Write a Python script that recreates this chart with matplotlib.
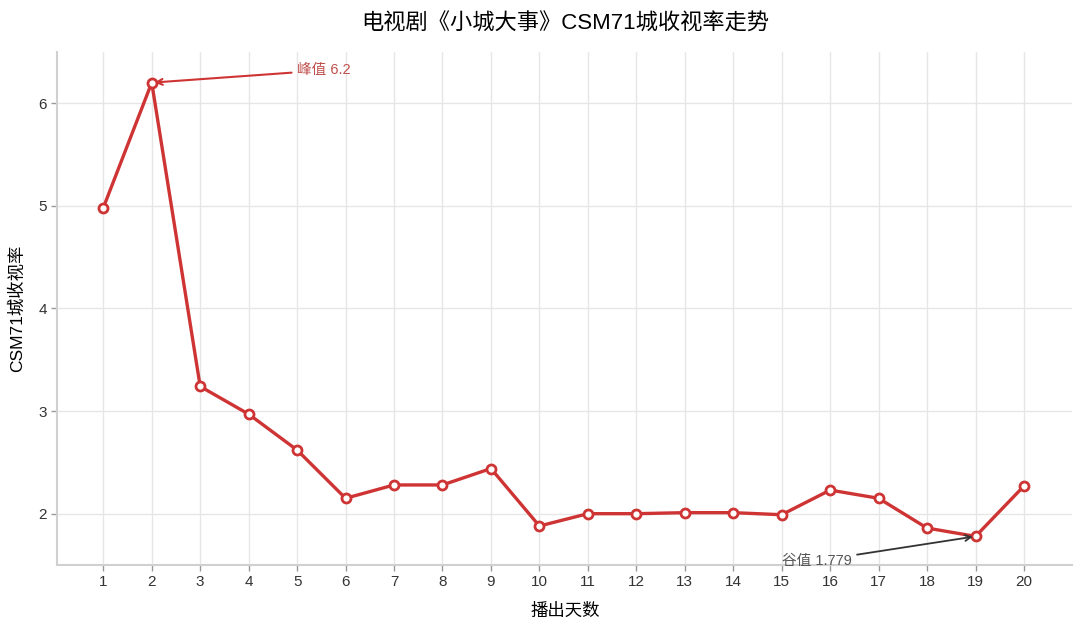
import matplotlib
matplotlib.use('Agg')
import matplotlib.pyplot as plt

plt.rcParams['font.family'] = ['Liberation Sans', 'Noto Sans CJK SC', 'DejaVu Sans']

days = list(range(1, 21))
ratings = [4.98, 6.2, 3.24, 2.97, 2.62, 2.15, 2.28, 2.28, 2.44, 1.88,
           2.00, 2.00, 2.01, 2.01, 1.99, 2.23, 2.15, 1.86, 1.779, 2.27]

red = '#cf3434'

fig = plt.figure(figsize=(10.8, 6.25), dpi=100)
ax = fig.add_axes([0.053, 0.096, 0.940, 0.821])

ax.plot(days, ratings, color=red, linewidth=2.4, marker='o', markersize=6.5,
        markerfacecolor='white', markeredgecolor=red, markeredgewidth=2, zorder=3)

# 峰值 / 谷值
i_max = ratings.index(max(ratings))
i_min = ratings.index(min(ratings))
ax.annotate(f'峰值 {ratings[i_max]}', xy=(days[i_max], ratings[i_max]),
            xytext=(5, 6.32), color='#c0504d', fontsize=10.5, va='center',
            arrowprops=dict(arrowstyle='->', color=red, lw=1.5))
ax.annotate(f'谷值 {ratings[i_min]}', xy=(days[i_min], ratings[i_min]),
            xytext=(15, 1.54), color='#555555', fontsize=10.5, va='center',
            arrowprops=dict(arrowstyle='->', color='#333333', lw=1.3))

ax.set_xlim(0.05, 21)
ax.set_ylim(1.5, 6.5)
ax.set_xticks(days)
ax.set_yticks([2, 3, 4, 5, 6])
ax.grid(True, color='#e6e6e6', linewidth=1)
ax.set_axisbelow(True)
for s in ['top', 'right']:
    ax.spines[s].set_visible(False)
for s in ['left', 'bottom']:
    ax.spines[s].set_color('#d0d0d0')
    ax.spines[s].set_linewidth(1.5)
ax.tick_params(colors='#333333', labelsize=11, length=4, width=1)
ax.tick_params(axis='both', color='#999999')

ax.set_title('电视剧《小城大事》CSM71城收视率走势', fontsize=16, pad=16)
ax.set_xlabel('播出天数', fontsize=12.5, labelpad=10)
ax.set_ylabel('CSM71城收视率', fontsize=12.5, labelpad=10)

plt.savefig('out.png')
plt.close()
